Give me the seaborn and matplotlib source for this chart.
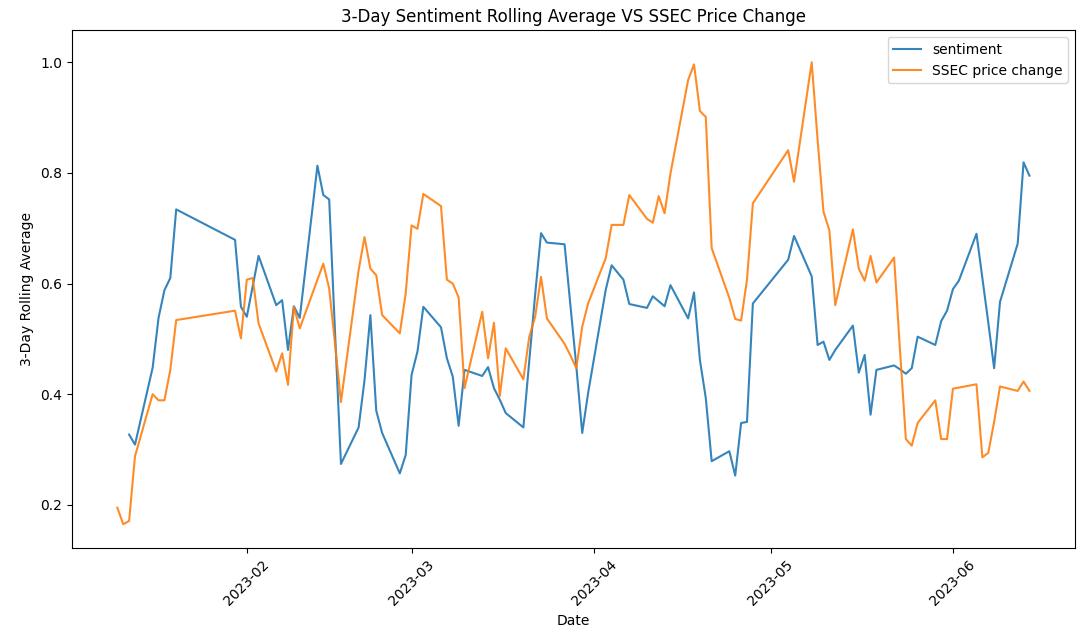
import matplotlib
matplotlib.use("Agg")
import matplotlib.pyplot as plt
import seaborn as sns
import numpy as np
import pandas as pd

dates = pd.to_datetime([
    "2023-01-10", "2023-01-11", "2023-01-12", "2023-01-13", "2023-01-16", "2023-01-17",
    "2023-01-18", "2023-01-19", "2023-01-20", "2023-01-30", "2023-01-31",
    "2023-02-01", "2023-02-02", "2023-02-03", "2023-02-06", "2023-02-07", "2023-02-08",
    "2023-02-09", "2023-02-10", "2023-02-13", "2023-02-14", "2023-02-15", "2023-02-16",
    "2023-02-17", "2023-02-20", "2023-02-21", "2023-02-22", "2023-02-23", "2023-02-24",
    "2023-02-27", "2023-02-28",
    "2023-03-01", "2023-03-02", "2023-03-03", "2023-03-06", "2023-03-07", "2023-03-08",
    "2023-03-09", "2023-03-10", "2023-03-13", "2023-03-14", "2023-03-15", "2023-03-16",
    "2023-03-17", "2023-03-20", "2023-03-21", "2023-03-22", "2023-03-23", "2023-03-24",
    "2023-03-27", "2023-03-28", "2023-03-29", "2023-03-30", "2023-03-31",
    "2023-04-03", "2023-04-04", "2023-04-06", "2023-04-07", "2023-04-10", "2023-04-11",
    "2023-04-12", "2023-04-13", "2023-04-14", "2023-04-17", "2023-04-18", "2023-04-19",
    "2023-04-20", "2023-04-21", "2023-04-24", "2023-04-25", "2023-04-26", "2023-04-27",
    "2023-04-28",
    "2023-05-04", "2023-05-05", "2023-05-08", "2023-05-09", "2023-05-10", "2023-05-11",
    "2023-05-12", "2023-05-15", "2023-05-16", "2023-05-17", "2023-05-18", "2023-05-19",
    "2023-05-22", "2023-05-23", "2023-05-24", "2023-05-25", "2023-05-26", "2023-05-29",
    "2023-05-30", "2023-05-31",
    "2023-06-01", "2023-06-02", "2023-06-05", "2023-06-06", "2023-06-07", "2023-06-08",
    "2023-06-09", "2023-06-12", "2023-06-13", "2023-06-14",
])

sentiment = [
    np.nan, np.nan, 0.327, 0.309, 0.448, 0.538, 0.588, 0.610, 0.734, 0.679, 0.558,
    0.540, 0.595, 0.650, 0.561, 0.570, 0.480, 0.559, 0.538, 0.813, 0.760, 0.752, 0.510,
    0.274, 0.340, 0.425, 0.543, 0.370, 0.330, 0.257, 0.290,
    0.435, 0.477, 0.558, 0.521, 0.465, 0.432, 0.343, 0.444, 0.433, 0.449, 0.411, 0.390,
    0.366, 0.340, 0.460, 0.580, 0.691, 0.674, 0.671, 0.560, 0.450, 0.330, 0.402,
    0.589, 0.633, 0.607, 0.563, 0.556, 0.577, 0.568, 0.559, 0.597, 0.537, 0.584, 0.462,
    0.393, 0.279, 0.297, 0.253, 0.348, 0.350, 0.564,
    0.643, 0.686, 0.613, 0.489, 0.495, 0.462, 0.480, 0.524, 0.439, 0.471, 0.363, 0.444,
    0.452, 0.445, 0.437, 0.447, 0.504, 0.489, 0.532, 0.551,
    0.590, 0.605, 0.690, 0.610, 0.530, 0.447, 0.567, 0.672, 0.819, 0.795,
]

price_change = [
    0.195, 0.165, 0.171, 0.288, 0.400, 0.389, 0.389, 0.444, 0.534, 0.551, 0.501,
    0.607, 0.610, 0.528, 0.441, 0.474, 0.417, 0.558, 0.519, 0.607, 0.636, 0.591, 0.490,
    0.386, 0.624, 0.684, 0.627, 0.615, 0.543, 0.510, 0.582,
    0.705, 0.699, 0.762, 0.740, 0.607, 0.600, 0.575, 0.411, 0.549, 0.465, 0.529, 0.397,
    0.483, 0.427, 0.504, 0.540, 0.612, 0.537, 0.491, 0.470, 0.447, 0.522, 0.564,
    0.646, 0.706, 0.706, 0.760, 0.717, 0.710, 0.758, 0.727, 0.799, 0.968, 0.996, 0.912,
    0.901, 0.664, 0.574, 0.536, 0.533, 0.607, 0.745,
    0.841, 0.784, 1.000, 0.860, 0.730, 0.696, 0.561, 0.698, 0.627, 0.605, 0.650, 0.602,
    0.647, 0.480, 0.319, 0.307, 0.348, 0.389, 0.319, 0.319,
    0.410, 0.412, 0.418, 0.286, 0.294, 0.350, 0.414, 0.406, 0.423, 0.406,
]

df = pd.DataFrame({"Date": dates, "sentiment": sentiment, "SSEC price change": price_change})

fig, ax = plt.subplots(figsize=(10.87, 6.41), dpi=100)
sns.lineplot(data=df, x="Date", y="sentiment", label="sentiment", ax=ax, alpha=0.9)
sns.lineplot(data=df, x="Date", y="SSEC price change", label="SSEC price change", ax=ax, alpha=0.9)

ax.set_title("3-Day Sentiment Rolling Average VS SSEC Price Change")
ax.set_xlabel("Date")
ax.set_ylabel("3-Day Rolling Average")
ax.set_ylim(0.122, 1.058)
plt.xticks(rotation=45)
ax.legend(loc="upper right")

plt.subplots_adjust(left=0.066, right=0.989, top=0.953, bottom=0.145)
plt.savefig("out.png", dpi=100)
